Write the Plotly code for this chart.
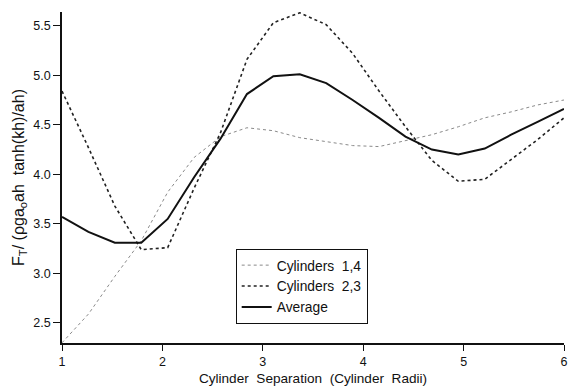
import plotly.graph_objects as go

# Cylinder separation in cylinder radii (20 evenly spaced stations from 1 to 6)
separation = [1 + k * 5 / 19 for k in range(20)]

force_cyl_14 = [2.30, 2.59, 2.97, 3.33, 3.82, 4.17, 4.38, 4.47, 4.44, 4.37,
                4.33, 4.29, 4.28, 4.34, 4.40, 4.48, 4.57, 4.63, 4.70, 4.75]
force_cyl_23 = [4.84, 4.27, 3.68, 3.24, 3.26, 3.86, 4.42, 5.16, 5.53, 5.63,
                5.51, 5.22, 4.84, 4.48, 4.14, 3.93, 3.95, 4.15, 4.35, 4.57]
force_average = [3.57, 3.42, 3.31, 3.31, 3.55, 3.97, 4.36, 4.81, 4.99, 5.01,
                 4.92, 4.75, 4.57, 4.38, 4.25, 4.20, 4.26, 4.40, 4.53, 4.66]

NBSP = "\u00a0"
NBSP2 = NBSP * 2
series_names = [f"Cylinders{NBSP2}1,4", f"Cylinders{NBSP2}2,3", "Average"]
x_ticks = [1, 2, 3, 4, 5, 6]
y_ticks = [2.5, 3.0, 3.5, 4.0, 4.5, 5.0, 5.5]

FONT = "Liberation Sans, Arial, Helvetica, sans-serif"

fig = go.Figure()
fig.add_trace(go.Scatter(
    x=separation, y=force_cyl_14, mode="lines", name=series_names[0],
    line=dict(color="#8a8a8a", width=1, dash="dot"),
))
fig.add_trace(go.Scatter(
    x=separation, y=force_cyl_23, mode="lines", name=series_names[1],
    line=dict(color="#222222", width=1.6, dash="dot"),
))
fig.add_trace(go.Scatter(
    x=separation, y=force_average, mode="lines", name=series_names[2],
    line=dict(color="#111111", width=2),
))

x_title = NBSP + NBSP2.join(["Cylinder", "Separation", "(Cylinder", "Radii)"])
# trailing spaces nudge the rotated title slightly toward the bottom
y_title = f"F<sub>T</sub>/ (ρga<sub>o</sub>ah{NBSP2}tanh(kh)/ah){NBSP * 9}"

fig.update_layout(
    width=571, height=391,
    margin=dict(l=62, r=3, t=12, b=48),
    paper_bgcolor="white", plot_bgcolor="white",
    font=dict(family=FONT, size=12, color="#111111"),
    showlegend=True,
    legend=dict(
        x=0.346, y=0.285, xanchor="left", yanchor="top",
        bgcolor="white", bordercolor="#111111", borderwidth=1,
        font=dict(family=FONT, size=13.8, color="#111111"),
        tracegroupgap=0, itemwidth=30,
    ),
    xaxis=dict(
        range=[1, 6], tickvals=x_ticks, ticklabeloverflow="allow",
        showgrid=False, zeroline=False,
        showline=True, linecolor="#111111", linewidth=1.5,
        ticks="outside", ticklen=6, tickwidth=1, tickcolor="#111111",
        tickfont=dict(family=FONT, size=12.5),
        title=dict(text=x_title, font=dict(family=FONT, size=13.6), standoff=6),
    ),
    yaxis=dict(
        range=[2.298, 5.638], tickvals=y_ticks, tickformat=".1f",
        showgrid=False, zeroline=False,
        showline=True, linecolor="#111111", linewidth=1.5,
        ticks="outside", ticklen=7, tickwidth=1, tickcolor="#111111",
        tickfont=dict(family=FONT, size=12.5),
        title=dict(text=y_title, font=dict(family=FONT, size=16), standoff=5),
    ),
)

fig.write_html("out.html")
